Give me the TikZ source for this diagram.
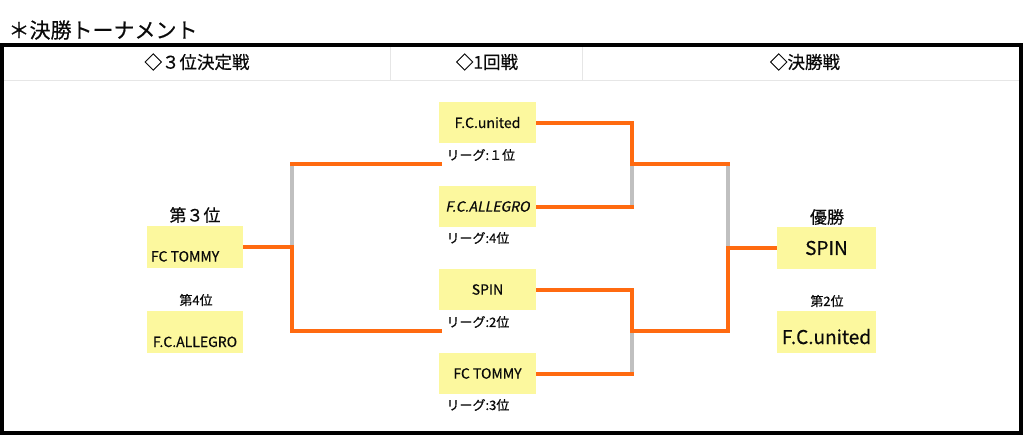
\documentclass[tikz,border=0pt]{standalone}
\usepackage{fontspec}
\setmainfont{Noto Sans CJK JP}[FakeBold=0.5]
\newfontfamily\jpslant{Noto Sans CJK JP}[FakeSlant=0.2, FakeBold=0.5]
\usetikzlibrary{positioning,backgrounds}

\definecolor{teamyellow}{RGB}{252,248,158}
\definecolor{winorange}{RGB}{255,106,16}
\definecolor{losegray}{RGB}{192,192,192}
\definecolor{sepgray}{RGB}{230,230,230}
\definecolor{inkgray}{RGB}{10,10,10}

% lower a box text without changing the box
\newcommand{\sunk}[2]{\raisebox{-#1}[0pt][0pt]{#2}}

\begin{document}
\begin{tikzpicture}[
  x=1pt, y=-1pt,
  text=inkgray,
  team/.style={fill=teamyellow, inner sep=0pt, minimum width=97pt,
               minimum height=41pt, font=\fontsize{14}{16}\selectfont},
  bigteam/.style={team, minimum height=42pt},
  head/.style={font=\fontsize{17.5}{20}\selectfont},
  rank/.style={font=\fontsize{13}{15}\selectfont},
  bigrank/.style={font=\fontsize{17}{19}\selectfont},
  league/.style={anchor=west, font=\fontsize{13}{15}\selectfont},
  win/.style={draw=winorange, line width=4pt, line cap=rect},
  lose/.style={draw=losegray, line width=4pt},
  sep/.style={draw=sepgray, line width=1pt},
]
\useasboundingbox (0,0) rectangle (1024,437);

\node[anchor=west, font=\fontsize{21}{24}\selectfont] (title) at (5,30) {＊決勝トーナメント};

% frame and header row
\draw[line width=4pt] (2,45) rectangle (1021,433);
\draw[sep] (4,80) -- (1019,80);
\draw[sep] (390,47) -- (390,80);
\draw[sep] (582,47) -- (582,80);
\node[head] (h3rd) at (197,62) {◇３位決定戦};
\node[head] (hfirst) at (487,62) {◇1回戦};
\node[head] (hfinal) at (805,62) {◇決勝戦};

% first round
\node[team] (united) at (487.5,122.5) {F.C.united};
\node[league] (lg1) at (443,155) {リーグ:１位};
\node[team] (allegro) at (487.5,206.5) {\jpslant F.C.ALLEGRO};
\node[league] (lg4) at (443,238) {リーグ:4位};
\node[team] (spin) at (487.5,289.5) {SPIN};
\node[league] (lg2) at (443,322) {リーグ:2位};
\node[team] (tommy) at (487.5,373.5) {FC TOMMY};
\node[league] (lg3) at (443,405) {リーグ:3位};

% third place match
\node[bigrank] (third) at (195,215) {第３位};
\node[bigteam, minimum width=96pt] (tommyL) at (195,247)
  {\sunk{14.5pt}{\makebox[88pt][l]{FC TOMMY}}};
\node[rank] (fourth) at (196,300) {第4位};
\node[bigteam, minimum width=96pt] (allegroL) at (195,332)
  {\sunk{15pt}{F.C.ALLEGRO}};

% final
\node[bigrank] (champ) at (827,217) {優勝};
\node[bigteam, minimum width=99pt, font=\fontsize{19}{22}\selectfont] (spinF) at (826.5,248) {SPIN};
\node[rank] (second) at (827,301) {第2位};
\node[bigteam, minimum width=99pt, font=\fontsize{19}{22}\selectfont] (unitedF) at (826.5,332)
  {\sunk{12pt}{F.C.united}};

% bracket joints
\coordinate (s1) at (632,164);
\coordinate (s2) at (632,331);
\coordinate (f1) at (728,164);
\coordinate (fj) at (728,248);
\coordinate (t1) at (292,164);
\coordinate (tj) at (292,247);
\coordinate (t2) at (292,331);
\coordinate (l1) at (440,164);
\coordinate (l2) at (440,331);

\begin{scope}[on background layer]
\draw[lose] (s1) -- (s1 |- allegro.east);
\draw[lose] (s2) -- (s2 |- tommy.east);
\draw[lose] (f1) -- (fj);
\draw[lose] (t1) -- (tj);
\draw[win] (united.east) -| (s1) -- (f1);
\draw[win] (allegro.east) -- (allegro.east -| s1);
\draw[win] (spin.east) -| (s2) -| (fj) -- (spinF.west);
\draw[win] (tommy.east) -- (tommy.east -| s2);
\draw[win] (l1) -- (t1);
\draw[win] (tommyL.east) -- (tj) -- (t2) -- (l2);
\end{scope}
\end{tikzpicture}
\end{document}
